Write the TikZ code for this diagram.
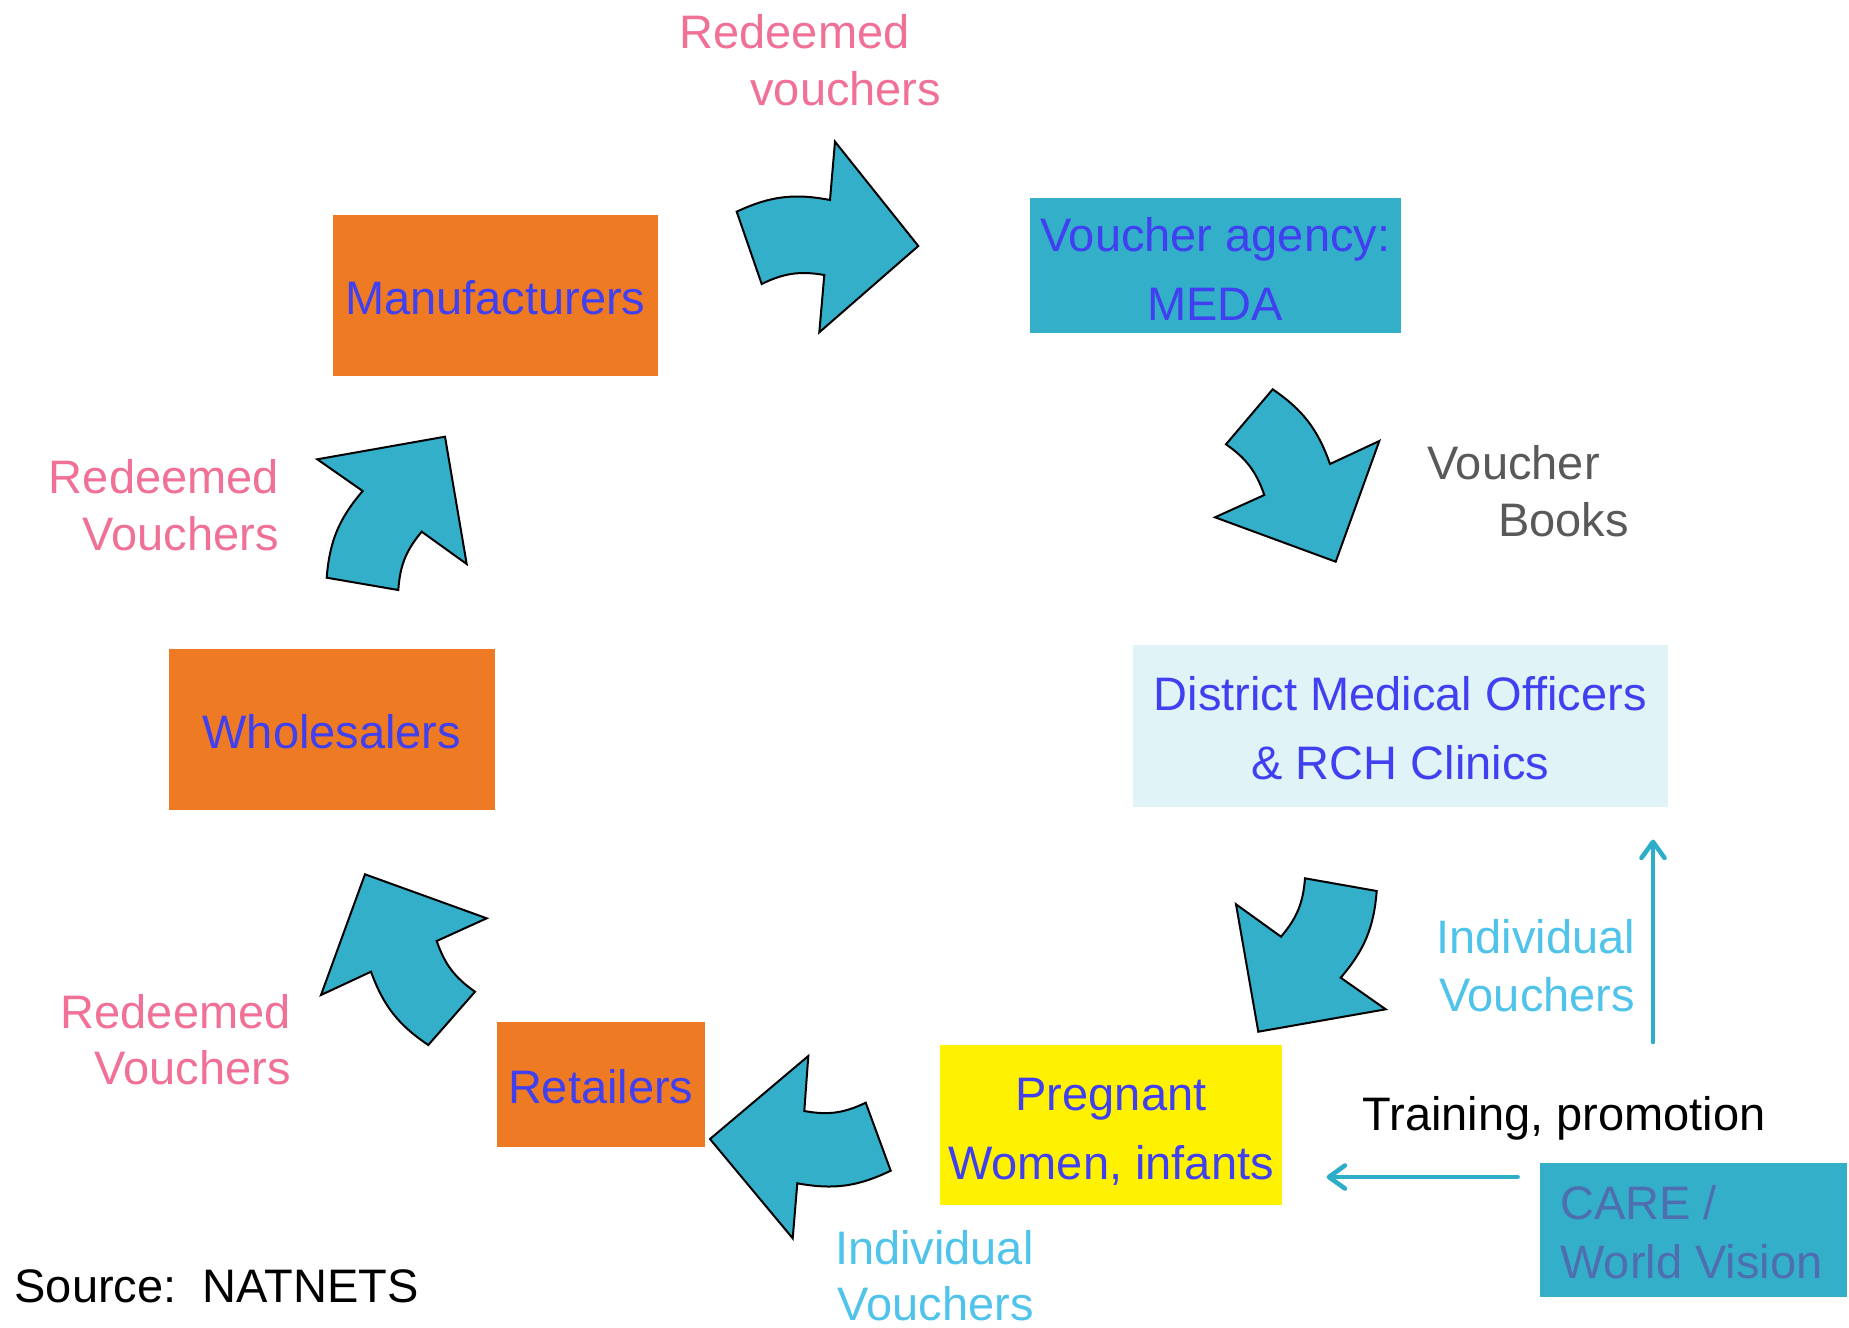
\documentclass[tikz,border=0pt]{standalone}
\usepackage{fontspec}
\setmainfont{Liberation Sans}
\usetikzlibrary{arrows.meta}
\definecolor{arrowfill}{RGB}{51,175,202}
\definecolor{orangebox}{RGB}{238,123,35}
\definecolor{dmofill}{RGB}{224,244,248}
\definecolor{boxtext}{RGB}{64,64,240}
\definecolor{pinktext}{RGB}{240,112,150}
\definecolor{cyantext}{RGB}{80,195,235}
\definecolor{graytext}{RGB}{89,89,89}
\definecolor{caretext}{RGB}{79,110,175}
\definecolor{lineblue}{RGB}{46,173,200}
\begin{document}
\begin{tikzpicture}[x=0.5pt,y=-0.5pt,
  every node/.style={font=\fontsize{23.5}{28.3}\selectfont, inner sep=0pt},
  box/.style={rectangle},
  boxtxt/.style={align=center, text=boxtext, font=\fontsize{23.5}{34.5}\selectfont},
  blk/.style={draw=black, line width=1pt, fill=arrowfill, line join=miter},
  lbl/.style={text=pinktext},
  thin/.style={draw=lineblue, line width=2.3pt, line cap=round, -{Straight Barb[round,length=8pt,width=11.5pt]}}
]
\useasboundingbox (0,0) rectangle (1849,1328);

% boxes
\node[box, fill=orangebox, minimum width=162.75pt, minimum height=80.7pt] (man) at (495.25,295.3) {};
\node[boxtxt] (mant) at ([yshift=-1.2pt]man.center) {Manufacturers};
\node[box, fill=arrowfill, minimum width=185.75pt, minimum height=67.25pt] (meda) at (1215.25,265.25) {};
\node[boxtxt] (medat) at ([yshift=-1.7pt]meda.center) {Voucher agency:\\MEDA};
\node[box, fill=dmofill, minimum width=267.25pt, minimum height=80.8pt] (dmo) at (1400.25,725.8) {};
\node[boxtxt] (dmot) at ([yshift=-1.2pt]dmo.center) {District Medical Officers\\\& RCH Clinics};
\node[box, fill=orangebox, minimum width=163.2pt, minimum height=80.75pt] (whole) at (331.8,729.25) {};
\node[boxtxt] (wholet) at ([yshift=-1.2pt]whole.center) {Wholesalers};
\node[box, fill=orangebox, minimum width=104.25pt, minimum height=62.5pt] (ret) at (600.75,1084.5) {};
\node[boxtxt] (rett) at ([yshift=-1.2pt]ret.center) {Retailers};
\node[box, fill=yellow, minimum width=171pt, minimum height=80pt] (preg) at (1111,1125) {};
\node[boxtxt] (pregt) at ([yshift=-3.4pt]preg.center) {Pregnant\\Women, infants};
\node[box, fill=arrowfill, minimum width=153.3pt, minimum height=67.15pt] (care) at (1693.3,1229.85) {};
\node[anchor=base west, text=caretext] (care1) at (1560,1219.3) {CARE /};
\node[anchor=base west, text=caretext] (care2) at (1560,1278.3) {World Vision};

% block arrows
\draw[blk] (736.7,211.7) to[bend left=18] (830,200) -- (835,141.7) -- (918.3,246) -- (819.3,332.3) -- (824.3,275) to[bend right=18] (761.7,284) -- cycle;
\draw[blk] (1272.7,389.3) to[bend left=18] (1330,464) -- (1379.3,441) -- (1335.7,561.7) -- (1215,517.3) -- (1264.3,495) to[bend right=18] (1226,444.3) -- cycle;
\draw[blk] (1376.7,891) -- (1305,878.3) to[bend left=18] (1281,936.7) -- (1236,904.3) -- (1258.3,1031.7) -- (1385.7,1009.3) -- (1340.7,977.7) to[bend right=18] (1376.7,891) -- cycle;
\draw[blk] (865.7,1102.7) to[bend left=18] (804.3,1111) -- (808.3,1056) -- (710,1139) -- (792.7,1238.3) -- (797.3,1183.3) to[bend right=18] (890.7,1170.7) -- cycle;
\draw[blk] (475,991.7) to[bend left=18] (436.7,941) -- (486.7,918.3) -- (365,874.3) -- (321,995) -- (371,971.7) to[bend right=18] (428.3,1045) -- cycle;
\draw[blk] (326.7,577.7) to[bend left=18] (362.7,491) -- (317.3,459.3) -- (445,436.7) -- (466.7,564) -- (421.7,531.7) to[bend right=18] (398.3,590) -- cycle;

% labels
\node[lbl, anchor=base west] (r1a) at (679.2,48.5) {Redeemed};
\node[lbl, anchor=base west] (r1b) at (750,105.1) {vouchers};
\node[anchor=base west, text=graytext] (vb1) at (1426.8,479.8) {Voucher};
\node[anchor=base west, text=graytext] (vb2) at (1497.6,536.4) {Books};
\node[lbl, anchor=base east] (r2a) at (279.3,493) {Redeemed};
\node[lbl, anchor=base east] (r2b) at (279.3,550.7) {Vouchers};
\node[lbl, anchor=base east] (r3a) at (291,1028.3) {Redeemed};
\node[lbl, anchor=base east] (r3b) at (291,1084.9) {Vouchers};
\node[anchor=base east, text=cyantext] (iv1a) at (1635.4,953.8) {Individual};
\node[anchor=base east, text=cyantext] (iv1b) at (1635.4,1011.6) {Vouchers};
\node[anchor=base east, text=cyantext] (iv2a) at (1034,1264.8) {Individual};
\node[anchor=base east, text=cyantext] (iv2b) at (1034,1320.9) {Vouchers};
\node[anchor=base west] (train) at (1362,1130.7) {Training, promotion};
\node[anchor=base west] (src) at (14.2,1302.8) {Source:\ \ NATNETS};

% thin arrows
\coordinate (vstart) at (1653,1042);
\coordinate (vend) at (1653,839.6);
\coordinate (hstart) at (1517.6,1177);
\coordinate (hend) at (1326.6,1177);
\draw[thin] (vstart) -- (vend);
\draw[thin] (hstart) -- (hend);
\end{tikzpicture}
\end{document}
